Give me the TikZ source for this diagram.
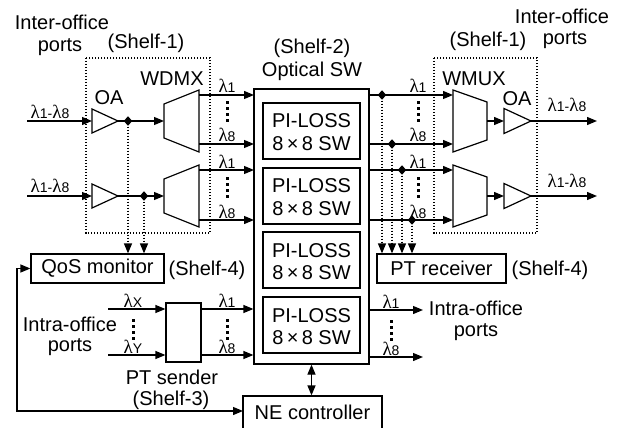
\documentclass[tikz,border=0pt]{standalone}
\usepackage{fontspec}
\setmainfont{Liberation Sans}
\newfontfamily\lamfont{Liberation Serif}
\usetikzlibrary{arrows.meta,shapes.geometric}
\newcommand{\lamlab}[1]{{\fontsize{19}{19}\selectfont\lamfont λ}{\fontsize{14}{14}\selectfont #1}}
\newcommand{\lamrange}{\lamlab{1-}\lamlab{8}}
\begin{document}
\begin{tikzpicture}[x=1pt,y=-1pt,line width=1.2pt,
  txt/.style={font=\fontsize{20}{20}\selectfont,inner sep=0pt,anchor=base},
  lab/.style={inner sep=0pt,anchor=base},
  box/.style={draw,line width=1.2pt,inner sep=0pt},
  arr/.style={-{Triangle[length=10pt,width=8pt]}},
  darr/.style={{Triangle[length=10pt,width=8pt]}-{Triangle[length=10pt,width=8pt]}},
  dotl/.style={line width=1.3pt,dash pattern=on 1.4pt off 1.6pt},
  dia/.style={diamond,fill=black,inner sep=0pt,minimum width=9pt,minimum height=10pt},
  dotn/.style={rectangle,fill=black,inner sep=0pt,minimum size=3pt}]
\fill[white] (0,0) rectangle (622,428);
\useasboundingbox (0,0) rectangle (622,428);

% ---------- texts ----------
\node[txt] (t1) at (62,30) {Inter-office};
\node[txt] (t2) at (60,52) {ports};
\node[txt] (t3) at (146,49) {(Shelf-1)};
\node[txt] (t4) at (172,85) {WDMX};
\node[txt] (t5) at (109,105) {OA};
\node[txt] (t6) at (312,54) {(Shelf-2)};
\node[txt] (t7) at (312,77) {Optical SW};
\node[txt] (t8) at (488,47) {(Shelf-1)};
\node[txt] (t9) at (562,24) {Inter-office};
\node[txt] (t10) at (565,45) {ports};
\node[txt] (t11) at (474,85) {WMUX};
\node[txt] (t12) at (517,106) {OA};
\node[txt] (t13) at (207,275) {(Shelf-4)};
\node[txt] (t14) at (550,275) {(Shelf-4)};
\node[txt] (t15) at (70,331) {Intra-office};
\node[txt] (t16) at (70,351) {ports};
\node[txt] (t17) at (172,384) {PT sender};
\node[txt] (t18) at (171,405) {(Shelf-3)};
\node[txt] (t19) at (476,315) {Intra-office};
\node[txt] (t20) at (476,336) {ports};

% ---------- dotted shelves ----------
\draw[dotl] (86,58) rectangle (210,233);
\draw[dotl] (434,58) rectangle (537,233);

% ---------- optical switch ----------
\node[box,minimum width=115pt,minimum height=275pt] (sw) at (311.5,226.5) {};
\foreach \i/\c in {1/131,2/196,3/260,4/325}{
  \node[box,minimum width=97pt,minimum height=56pt] (pl\i) at (311.5,\c) {};
  \node[txt] (pa\i) at (311.5,\c-3) {PI-LOSS};
  \node[txt] (pb\i) at (311.5,\c+19) {8\,×\,8 SW};
}

% ---------- other boxes ----------
\node[box,minimum width=133pt,minimum height=29pt,font=\fontsize{20}{20}\selectfont] (qos) at (97.5,268.5) {QoS monitor};
\node[box,minimum width=129pt,minimum height=29pt,font=\fontsize{20}{20}\selectfont] (ptr) at (441.5,268.5) {PT receiver};
\node[box,minimum width=35pt,minimum height=59pt] (pts) at (183.5,332.5) {};
\node[box,minimum width=139pt,minimum height=40pt] (ne) at (312.5,416) {};
\node[txt] (net) at (312.5,419) {NE controller};

% ---------- left: OA + WDMX ----------
\foreach \k/\yy in {1/121,2/196}{
  \draw (92,\yy-12) coordinate (oal\k) -- (118,\yy) coordinate (oao\k) -- (92,\yy+12) -- cycle;
  \coordinate (oai\k) at (92,\yy);
  \coordinate (inl\k) at (27,\yy);
  \draw[arr] (inl\k) -- (oai\k);
  \node[lab] (ll\k) at (50,\yy-3) {\lamrange};
  \draw (164,\yy-17) -- (199,\yy-31) -- (199,\yy+31) -- (164,\yy+17) -- cycle;
  \coordinate (dmi\k) at (164,\yy);
  \draw[arr] (oao\k) -- (dmi\k);
  % right: WMUX + OA
  \draw (453,\yy-31) -- (487,\yy-19) -- (487,\yy+19) -- (453,\yy+31) -- cycle;
  \coordinate (mxo\k) at (487,\yy);
  \draw (504,\yy-12.5) -- (531,\yy) coordinate (roo\k) -- (504,\yy+12.5) -- cycle;
  \coordinate (roi\k) at (504,\yy);
  \draw[arr] (mxo\k) -- (roi\k);
  \coordinate (out\k) at (597,\yy);
  \draw[arr] (roo\k) -- (out\k);
  \node[lab] (rl\k) at (567,\yy-9) {\lamrange};
}
\node[dia] (d1) at (128,121) {};
\node[dia] (d2) at (144,196) {};
\draw[dotl,arr] (d1) -- (d1|-qos.north);
\draw[dotl,arr] (d2) -- (d2|-qos.north);

% WDMX outputs -> switch, switch -> WMUX
\foreach \yy/\n/\dx in {95/1/382,144/8/392,170/1/402,220/8/412}{
  \coordinate (a) at (199,\yy);
  \coordinate (b) at (254,\yy);
  \draw[arr] (a) -- (b);
  \node[lab] at (227,\yy-2) {\lamlab{\n}};
  \coordinate (c) at (369,\yy);
  \coordinate (e) at (453,\yy);
  \draw[arr] (c) -- (e);
  \node[lab] at (418,\yy-2) {\lamlab{\n}};
  \node[dia] (rd) at (\dx,\yy) {};
  \draw[dotl,arr] (rd) -- (rd|-ptr.north);
}
% vertical dots
\foreach \x/\yy in {227/103,227/178,418/103,418/178}{
  \foreach \s in {0,6,12,18}{\node[dotn] at (\x,\yy+\s) {};}
}

% ---------- PT sender ----------
\foreach \yy/\n/\m in {309/1/X,355/8/Y}{
  \coordinate (pi) at (108,\yy);
  \draw[arr] (pi) -- (pi-|pts.west);
  \node[lab] at (133,\yy-2) {{\fontsize{19}{19}\selectfont\lamfont λ}{\fontsize{14}{14}\selectfont \m}};
  \coordinate (po) at (201,\yy);
  \draw[arr] (po) -- (po-|sw.west);
  \node[lab] at (227,\yy-2) {\lamlab{\n}};
}
\foreach \x in {133,227}{
  \foreach \s in {0,6,12,18}{\node[dotn] at (\x,320+\s) {};}
}
% intra-office outputs
\foreach \yy/\n in {310/1,357/8}{
  \coordinate (io) at (369,\yy);
  \coordinate (ie) at (423,\yy);
  \draw[arr] (io) -- (ie);
  \node[lab] at (391,\yy-2) {\lamlab{\n}};
}
\foreach \s in {0,6,12,18}{\node[dotn] at (391,321+\s) {};}

% ---------- controller ----------
\draw[darr] (sw.south) -- (sw.south|-ne.north);
\coordinate (fb) at (17,411);
\coordinate (nein) at (243,411);
\draw[darr] (qos.west) -| (fb) -- (nein);
\end{tikzpicture}
\end{document}
